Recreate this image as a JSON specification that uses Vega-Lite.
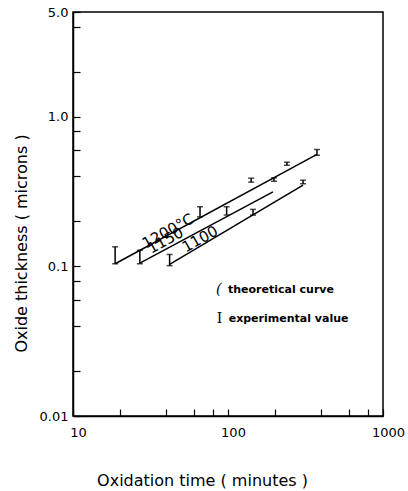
{
  "$schema": "https://vega.github.io/schema/vega-lite/v6.json",
  "autosize": {"type": "none"},
  "width": 310,
  "height": 404,
  "padding": {"left": 73, "top": 12, "right": 25, "bottom": 75},
  "background": "white",
  "config": {
    "view": {"stroke": "black", "strokeWidth": 1.5},
    "font": "DejaVu Sans",
    "axis": {"domainColor": "black", "tickColor": "black", "labelColor": "black", "titleColor": "black", "grid": false, "domainWidth": 1.5, "tickWidth": 1.2, "labelFont": "DejaVu Sans", "titleFont": "DejaVu Sans", "titleFontWeight": "normal"}
  },
  "datasets": {
    "curves": [
      {"series": "1200", "t": 18.7, "thickness": 0.104},
      {"series": "1200", "t": 375, "thickness": 0.56},
      {"series": "1150", "t": 27, "thickness": 0.105},
      {"series": "1150", "t": 195, "thickness": 0.314},
      {"series": "1100", "t": 42, "thickness": 0.103},
      {"series": "1100", "t": 305, "thickness": 0.349}
    ],
    "bars": [
      {"series": "1200", "t": 18.7, "lo": 0.104, "hi": 0.135},
      {"series": "1200", "t": 66, "lo": 0.214, "hi": 0.25},
      {"series": "1200", "t": 141, "lo": 0.365, "hi": 0.388},
      {"series": "1200", "t": 198, "lo": 0.37, "hi": 0.39},
      {"series": "1200", "t": 240, "lo": 0.473, "hi": 0.496},
      {"series": "1200", "t": 375, "lo": 0.552, "hi": 0.603},
      {"series": "1150", "t": 27, "lo": 0.104, "hi": 0.128},
      {"series": "1150", "t": 98, "lo": 0.22, "hi": 0.25},
      {"series": "1100", "t": 42, "lo": 0.101, "hi": 0.12},
      {"series": "1100", "t": 145, "lo": 0.22, "hi": 0.24},
      {"series": "1100", "t": 305, "lo": 0.356, "hi": 0.376}
    ],
    "curveLabels": [
      {"label": "1200°C", "t": 41, "thickness": 0.172},
      {"label": "1150", "t": 39.5, "thickness": 0.149},
      {"label": "1100", "t": 66, "thickness": 0.152}
    ],
    "legendText": [
      {"label": "theoretical curve", "t": 100, "thickness": 0.069},
      {"label": "experimental value", "t": 101, "thickness": 0.0445}
    ],
    "legendCurve": [
      {"symbol": "(", "t": 87, "thickness": 0.069}
    ],
    "legendBar": [
      {"symbol": "I", "t": 88, "thickness": 0.0445}
    ]
  },
  "layer": [
    {
      "data": {"name": "curves"},
      "mark": {"type": "line", "color": "black", "strokeWidth": 1.5},
      "encoding": {
        "x": {
          "field": "t", "type": "quantitative",
          "scale": {"type": "log", "domain": [10, 1000], "nice": false},
          "axis": {
            "title": "Oxidation time ( minutes )",
            "titleFontSize": 16, "titleX": 129, "titleY": 69, "titleBaseline": "alphabetic",
            "values": [10, 20, 40, 60, 80, 100, 200, 400, 600, 800, 1000],
            "labelExpr": "datum.value == 10 ? '10' : datum.value == 100 ? '100' : datum.value == 1000 ? '1000' : ''",
            "tickSize": -7, "labelPadding": 17, "labelFontSize": 13, "labelFlush": false, "labelOffset": 5
          }
        },
        "y": {
          "field": "thickness", "type": "quantitative",
          "scale": {"type": "log", "domain": [0.01, 5], "nice": false},
          "axis": {
            "title": "Oxide thickness ( microns )",
            "titleFontSize": 16, "titleX": -44, "titleY": 231,
            "values": [0.01, 0.02, 0.04, 0.06, 0.08, 0.1, 0.2, 0.4, 0.6, 0.8, 1, 2, 4, 5],
            "labelExpr": "datum.value == 0.01 ? '0.01' : datum.value == 0.1 ? '0.1' : datum.value == 1 ? '1.0' : datum.value == 5 ? '5.0' : ''",
            "tickSize": -7, "labelPadding": 12, "labelFontSize": 13, "labelFlush": false
          }
        },
        "detail": {"field": "series"}
      }
    },
    {
      "data": {"name": "bars"},
      "mark": {"type": "rule", "color": "black", "strokeWidth": 1.5},
      "encoding": {
        "x": {"field": "t", "type": "quantitative"},
        "y": {"field": "lo", "type": "quantitative"},
        "y2": {"field": "hi"}
      }
    },
    {
      "data": {"name": "bars"},
      "mark": {"type": "tick", "color": "black", "orient": "horizontal", "size": 6, "thickness": 1.5},
      "encoding": {
        "x": {"field": "t", "type": "quantitative"},
        "y": {"field": "lo", "type": "quantitative"}
      }
    },
    {
      "data": {"name": "bars"},
      "mark": {"type": "tick", "color": "black", "orient": "horizontal", "size": 6, "thickness": 1.5},
      "encoding": {
        "x": {"field": "t", "type": "quantitative"},
        "y": {"field": "hi", "type": "quantitative"}
      }
    },
    {
      "data": {"name": "curveLabels"},
      "mark": {"type": "text", "angle": 331, "fontSize": 15, "font": "DejaVu Sans", "color": "black"},
      "encoding": {
        "x": {"field": "t", "type": "quantitative"},
        "y": {"field": "thickness", "type": "quantitative"},
        "text": {"field": "label"}
      }
    },
    {
      "data": {"name": "legendText"},
      "mark": {"type": "text", "align": "left", "fontSize": 11, "fontWeight": "bold", "font": "DejaVu Sans", "color": "black"},
      "encoding": {
        "x": {"field": "t", "type": "quantitative"},
        "y": {"field": "thickness", "type": "quantitative"},
        "text": {"field": "label"}
      }
    },
    {
      "data": {"name": "legendCurve"},
      "mark": {"type": "text", "fontSize": 14, "font": "DejaVu Serif", "fontStyle": "italic", "color": "black"},
      "encoding": {
        "x": {"field": "t", "type": "quantitative"},
        "y": {"field": "thickness", "type": "quantitative"},
        "text": {"field": "symbol"}
      }
    },
    {
      "data": {"name": "legendBar"},
      "mark": {"type": "text", "fontSize": 14, "font": "DejaVu Serif", "color": "black"},
      "encoding": {
        "x": {"field": "t", "type": "quantitative"},
        "y": {"field": "thickness", "type": "quantitative"},
        "text": {"field": "symbol"}
      }
    }
  ]
}
